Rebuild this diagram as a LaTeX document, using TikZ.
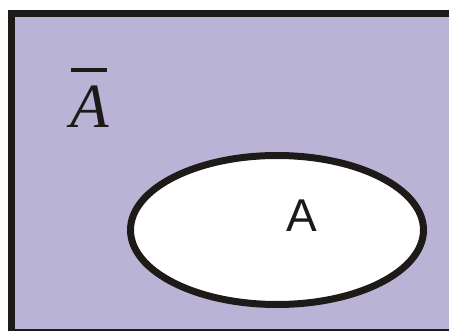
\documentclass[tikz,border=0pt]{standalone}
\usepackage{fontspec}
\usetikzlibrary{shapes.geometric}
\setmainfont{Liberation Serif}
\newfontfamily\sansA{Liberation Sans}
\definecolor{lav}{RGB}{185,179,214}
\definecolor{ink}{RGB}{30,26,24}
\begin{document}
\begin{tikzpicture}[x=1pt,y=-1pt,
  setbox/.style={fill=lav},
  border/.style={fill=ink},
  setA/.style={ellipse,draw=ink,line width=7pt,fill=white,minimum width=293pt,minimum height=149pt,inner sep=0pt},
  lbl/.style={inner sep=0pt,anchor=base,text=ink}]
\useasboundingbox (0,0) rectangle (450,331);
\fill[white] (0,0) rectangle (450,331);
\fill[setbox] (8,10) rectangle (449,331);
\fill[border] (8,10) rectangle (449,17);
\fill[border] (8,10) rectangle (15,331);
\fill[border] (8,328.5) rectangle (449,331);
\node[setA] (A) at (277,230) {};
\node[lbl,font=\sansA\fontsize{46}{46}\selectfont] (alabel) at (302,232) {A};
\node[lbl,font=\itshape\fontsize{63}{63}\selectfont] (abar) at (90,128) {A};
\draw[ink,line width=4pt] (71,70) -- (107,70);
\end{tikzpicture}
\end{document}
